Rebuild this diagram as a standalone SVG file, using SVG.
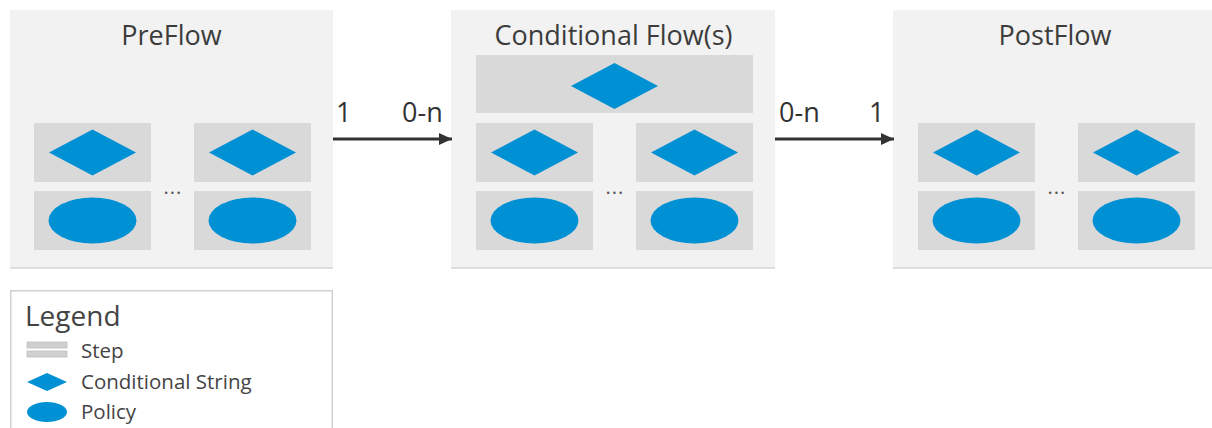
<svg xmlns="http://www.w3.org/2000/svg" width="1212" height="428" viewBox="0 0 1212 428">
  <style>
    .flow { fill: #f2f2f2; }
    .edge { stroke: #d4d4d4; stroke-width: 1.5; }
    .step { fill: #d9d9d9; }
    .blue { fill: #0090d4; }
    .title { font-family: "Open Sans", "Liberation Sans", sans-serif; font-size: 27px; fill: #3c3c3c; text-anchor: middle; }
    .card { font-family: "Open Sans", "Liberation Sans", sans-serif; font-size: 27px; fill: #333333; }
    .dots { font-family: "Open Sans", "Liberation Sans", sans-serif; font-size: 20px; fill: #555555; text-anchor: middle; letter-spacing: 1px; }
    .leg { font-family: "Open Sans", "Liberation Sans", sans-serif; font-size: 20.5px; fill: #444444; }
    .legTitle { font-family: "Open Sans", "Liberation Sans", sans-serif; font-size: 28px; fill: #444444; }
    .conn { stroke: #333333; stroke-width: 3; fill: none; }
  </style>
  <defs>
    <!-- diamond = conditional string, ellipse = policy, both centred on 0,0 -->
    <polygon id="cond" points="-43.5,0 0,-23 43.5,0 0,23" class="blue"/>
    <ellipse id="pol" rx="44" ry="23" class="blue"/>
    <!-- one step column: condition on top, policy below -->
    <g id="stepCol">
      <rect x="0" y="0" width="117" height="59" class="step"/>
      <use href="#cond" x="58.5" y="29.5"/>
      <rect x="0" y="68" width="117" height="59" class="step"/>
      <use href="#pol" x="58.5" y="97.5"/>
    </g>
    <marker id="head" markerWidth="13" markerHeight="12" refX="13" refY="6" orient="auto" markerUnits="userSpaceOnUse">
      <path d="M0,0 L13,6 L0,12 Z" fill="#333333"/>
    </marker>
  </defs>

  <g id="preflow">
    <rect x="10" y="10" width="323" height="258" class="flow"/>
    <line x1="10" y1="268" x2="333" y2="268" class="edge"/>
    <text x="171.5" y="45" class="title">PreFlow</text>
    <use href="#stepCol" x="34" y="123"/>
    <use href="#stepCol" x="194" y="123"/>
    <text x="173" y="194" class="dots">...</text>
  </g>

  <g id="conditional-flows">
    <rect x="451" y="10" width="324" height="258" class="flow"/>
    <line x1="451" y1="268" x2="775" y2="268" class="edge"/>
    <text x="613.5" y="45" class="title">Conditional Flow(s)</text>
    <rect x="476" y="55" width="277" height="58" class="step"/>
    <use href="#cond" x="614.5" y="86"/>
    <use href="#stepCol" x="476" y="123"/>
    <use href="#stepCol" x="636" y="123"/>
    <text x="615" y="194" class="dots">...</text>
  </g>

  <g id="postflow">
    <rect x="893" y="10" width="323" height="258" class="flow"/>
    <line x1="893" y1="268" x2="1216" y2="268" class="edge"/>
    <text x="1055" y="45" class="title">PostFlow</text>
    <use href="#stepCol" x="918" y="123"/>
    <use href="#stepCol" x="1078" y="123"/>
    <text x="1057" y="194" class="dots">...</text>
  </g>

  <g id="connectors">
    <line x1="333" y1="139" x2="452" y2="139" class="conn" marker-end="url(#head)"/>
    <text x="336" y="122" class="card">1</text>
    <text x="402" y="122" class="card">0-n</text>
    <line x1="775" y1="139" x2="894" y2="139" class="conn" marker-end="url(#head)"/>
    <text x="779" y="122" class="card">0-n</text>
    <text x="869" y="122" class="card">1</text>
  </g>

  <g id="legend">
    <rect x="10.75" y="290.75" width="321.5" height="150" fill="#ffffff" stroke="#d0d0d0" stroke-width="1.5"/>
    <text x="25" y="326" class="legTitle">Legend</text>
    <rect x="27" y="342" width="40" height="6" fill="#d0d0d0" stroke="#bdbdbd" stroke-width="0.75"/>
    <rect x="27" y="351" width="40" height="6" fill="#d0d0d0" stroke="#bdbdbd" stroke-width="0.75"/>
    <text x="81" y="358" class="leg">Step</text>
    <polygon points="27,382 47,373 67,382 47,391" class="blue"/>
    <text x="81" y="389" class="leg">Conditional String</text>
    <ellipse cx="47" cy="412" rx="20" ry="10" class="blue"/>
    <text x="81" y="419" class="leg">Policy</text>
  </g>
</svg>
